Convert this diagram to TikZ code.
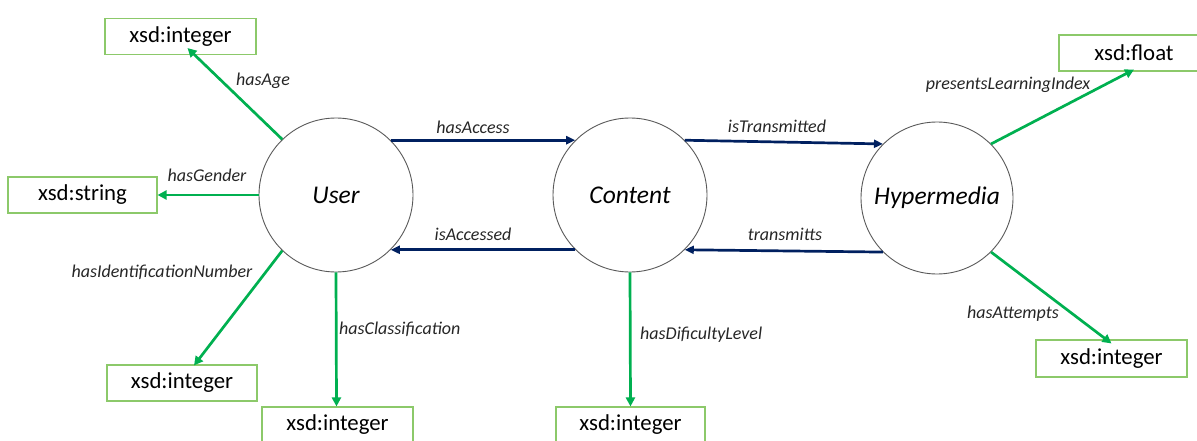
\documentclass[tikz,border=0pt]{standalone}
\usepackage{fontspec}
\setmainfont{Carlito}
\usetikzlibrary{arrows.meta}
\definecolor{propgreen}{HTML}{00B050}
\definecolor{boxgreen}{HTML}{8CC96A}
\definecolor{relnavy}{HTML}{002060}
\definecolor{ringgray}{HTML}{595959}
\tikzset{
  classnode/.style={circle, draw=ringgray, line width=0.9pt, minimum size=154pt,
    inner sep=0pt, font=\fontsize{25.5}{30}\selectfont\itshape},
  typebox/.style={draw=boxgreen, line width=1.1pt, minimum width=151pt,
    minimum height=36pt, inner sep=0pt, font=\fontsize{22.8}{27}\selectfont},
  dataprop/.style={draw=propgreen, line width=2.7pt,
    -{Triangle[length=9pt,width=9pt]}},
  objprop/.style={draw=relnavy, line width=2.7pt,
    -{Triangle[length=9pt,width=8pt]}},
  proplabel/.style={inner sep=0pt, font=\fontsize{18}{21}\selectfont\itshape,
    text=black!85},
}
\begin{document}
\begin{tikzpicture}[x=1pt, y=-1pt]
\useasboundingbox (0,0) rectangle (1197,441);

% classes
\node[classnode] (user) at (336,195) {User};
\node[classnode] (content) at (630,195) {Content};
\node[classnode, minimum size=152pt] (hyper) at (937,198) {Hypermedia};

% datatype ranges
\node[typebox] (age) at (180.5,36.5) {xsd:integer};
\node[typebox, minimum width=149pt] (gender) at (82.5,195) {xsd:string};
\node[typebox, minimum width=150pt] (idn) at (182,383) {xsd:integer};
\node[typebox] (cls) at (337.5,425) {xsd:integer};
\node[typebox, minimum width=149pt] (dif) at (630.5,425) {xsd:integer};
\node[typebox, minimum width=150pt] (flt) at (1134,53) {xsd:float};
\node[typebox, minimum height=37pt] (att) at (1111.5,358.5) {xsd:integer};

% object properties between classes
\draw[objprop] (user.45) -- (content.135);
\draw[objprop] (content.225) -- (user.-45);
\draw[objprop] (content.45) -- (hyper.135);
\draw[objprop] (hyper.225) -- (content.-45);

% data properties
\draw[dataprop] (user.134) -- ([xshift=7pt,yshift=7pt]age.south);
\draw[dataprop] (user.180) -- (gender.east);
\draw[dataprop] (user.226) -- ([xshift=12pt,yshift=-1pt]idn.north);
\draw[dataprop] (user.270) -- ([xshift=-1pt]cls.north);
\draw[dataprop] (content.270) -- (dif.north);
\draw[dataprop] (hyper.45) -- ([yshift=2pt]flt.south);
\draw[dataprop] (hyper.-45) -- ([yshift=-4pt]att.north);

% property names
\node[proplabel] (lAge) at (263,81) {hasAge};
\node[proplabel] (lGender) at (207,175) {hasGender};
\node[proplabel] (lIdn) at (162,272) {hasIdentificationNumber};
\node[proplabel, anchor=west] (lCls) at (339,329) {hasClassification};
\node[proplabel, anchor=west] (lDif) at (640,335) {hasDificultyLevel};
\node[proplabel] (lAccess) at (473,127) {hasAccess};
\node[proplabel] (lAccessed) at (473,234) {isAccessed};
\node[proplabel] (lTrans) at (777,126) {isTransmitted};
\node[proplabel] (lTransmitts) at (785,234) {transmitts};
\node[proplabel] (lIndex) at (1008,85) {presentsLearningIndex};
\node[proplabel] (lAttempts) at (1013,314) {hasAttempts};
\end{tikzpicture}
\end{document}
